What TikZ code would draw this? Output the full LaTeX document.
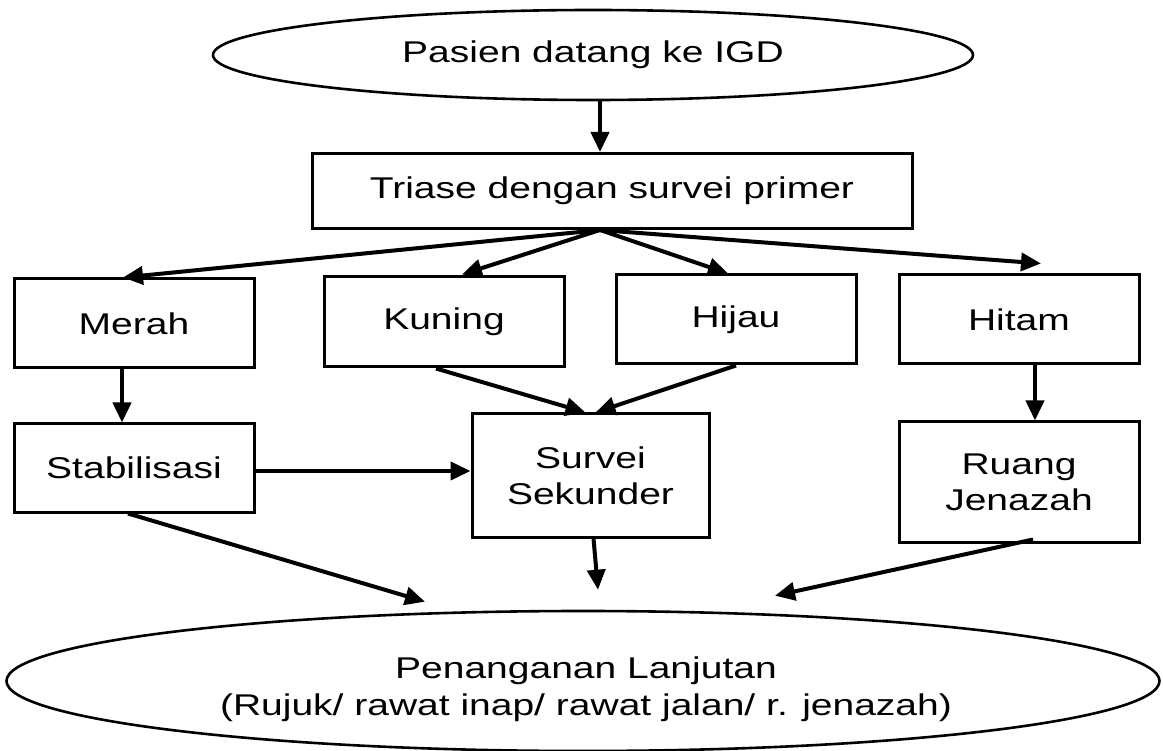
\documentclass[tikz,border=0pt]{standalone}
\usepackage{fontspec}
\setmainfont{Liberation Sans}[FakeStretch=1.3]
\usetikzlibrary{arrows.meta,shapes.geometric,calc}
\begin{document}
\begin{tikzpicture}[x=1pt,y=-1pt,
  txt/.style={font=\fontsize{30}{36}\selectfont,align=center,inner sep=0pt},
  box/.style={txt,draw,line width=3pt,minimum width=240pt,minimum height=89pt},
  oval/.style={txt,draw,line width=2.6pt,ellipse},
  arr/.style={line width=4pt,-{Triangle[length=20pt,width=18pt]}}]
\useasboundingbox (0,0) rectangle (1163,751);

% start and end ovals
\node[oval,minimum width=760pt,minimum height=90pt] (top) at (593,55) {Pasien datang ke IGD};
\node[oval,minimum width=1153pt,minimum height=140pt] (bot) at (583,681) {};
\node[txt,font=\fontsize{30}{37}\selectfont] (bottxt) at (586,689) {Penanganan Lanjutan\\(Rujuk/ rawat inap/ rawat jalan/ r. jenazah)};

% triage
\node[box,minimum width=600pt,minimum height=75pt] (tri) at (612,191) {Triase dengan survei primer};

% triage categories
\node[box] (merah) at (134,323.5) {Merah};
\node[box,minimum height=90pt] (kuning) at (444,322) {Kuning};
\node[box] (hijau) at (736,319.5) {Hijau};
\node[box] (hitam) at (1019,319.5) {Hitam};

% follow-up steps
\node[box,minimum height=88pt] (stab) at (134,468) {Stabilisasi};
\node[box,minimum width=237pt,minimum height=123pt] (surv) at (590.5,475.5) {Survei\\Sekunder};
\node[box,minimum height=120pt] (ruang) at (1019,482) {Ruang\\Jenazah};

% connectors
\coordinate (fan) at ($(tri.south)+(-12,0)$);
\draw[arr] (top.south -| fan) -- (tri.north -| fan);
\draw[arr] (fan) -- ($(merah.north)+(-11,0)$);
\draw[arr] (fan) -- ($(kuning.north)+(18,-1)$);
\draw[arr] (fan) -- ($(hijau.north)+(-8,0)$);
\draw[arr] (fan) -- ($(hitam.north)+(22,-10)$);

\draw[arr] ($(merah.south)+(-12,0)$) -- ($(stab.north)+(-12,0)$);
\draw[arr] ($(hitam.south)+(16,0)$) -- ($(ruang.north)+(16,0)$);
\draw[arr] ($(kuning.south)+(-8,0)$) -- ($(surv.north)+(-5,0)$);
\draw[arr] (hijau.south) -- ($(surv.north)+(5,0)$);
\draw[arr] ($(stab.east)+(0,3)$) -- ($(surv.west |- stab.east)+(0,3)$);

\coordinate (inL) at ($(bot.north)+(-158,-8)$);
\coordinate (inM) at ($(bot.north)+(15,-20)$);
\coordinate (inR) at ($(bot.north)+(192,-14)$);
\draw[arr] ($(stab.south)+(-6,0)$) -- (inL);
\draw[arr] ($(surv.south)+(3,0)$) -- (inM);
\draw[arr] ($(ruang.south)+(14,-4)$) -- (inR);
\end{tikzpicture}
\end{document}
